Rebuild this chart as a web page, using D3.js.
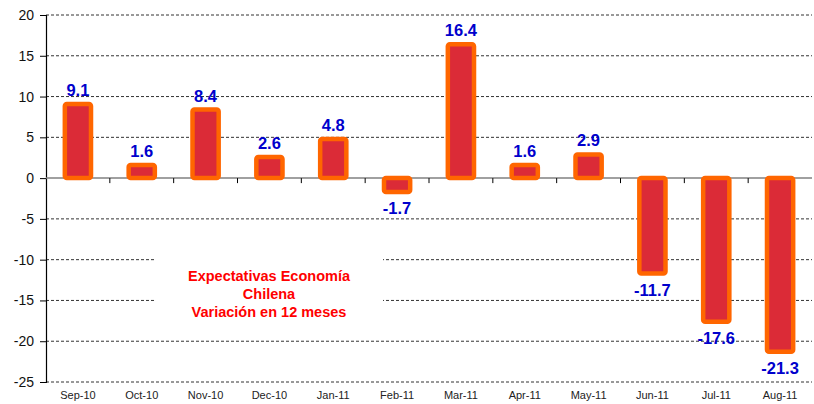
<!DOCTYPE html>
<html><head><meta charset="utf-8">
<script src="https://cdn.jsdelivr.net/npm/d3@7"></script>
<style>body{margin:0;background:#fff}svg{display:block;font-family:"Liberation Sans",Arial,sans-serif}</style>
</head><body>
<svg id="c" width="814" height="404"></svg>
<script>
const categories = ["Sep-10","Oct-10","Nov-10","Dec-10","Jan-11","Feb-11","Mar-11","Apr-11","May-11","Jun-11","Jul-11","Aug-11"];
const values = [9.1,1.6,8.4,2.6,4.8,-1.7,16.4,1.6,2.9,-11.7,-17.6,-21.3];
const yTicks = [20,15,10,5,0,-5,-10,-15,-20,-25];
const titleLines = ["Expectativas Economía","Chilena","Variación en 12 meses"];

const svg = d3.select("#c");
const L = 46, R = 812, T = 15, B = 382;
const x = d3.scaleBand().domain(categories).range([L, R]).padding(0);
const y = d3.scaleLinear().domain([-25, 20]).range([B, T]);

// dashed gridlines
svg.append("g").selectAll("line").data(yTicks.filter(d => d !== 0)).join("line")
  .attr("x1", L).attr("x2", R).attr("y1", d => y(d)).attr("y2", d => y(d))
  .attr("stroke", "#333").attr("stroke-width", 1).attr("stroke-dasharray", "3,2");

// white box behind title
svg.append("rect").attr("x", 155).attr("y", 255).attr("width", 228).attr("height", 70).attr("fill", "#fff");

// y axis
const yAxis = d3.axisLeft(y).tickValues(yTicks).tickFormat(d => String(d)).tickSize(6).tickPadding(6);
const ga = svg.append("g").attr("transform", `translate(${L},0)`).call(yAxis);
ga.select(".domain").attr("stroke", "#000").attr("stroke-width", 1.2);
ga.selectAll(".tick line").attr("stroke", "#000");
ga.selectAll("text").attr("font-size", 14).attr("fill", "#111").attr("font-family", "Liberation Sans, Arial, sans-serif");

// zero line
svg.append("line").attr("x1", L).attr("x2", R).attr("y1", y(0)).attr("y2", y(0))
  .attr("stroke", "#808080").attr("stroke-width", 1.5);
// category boundary ticks at zero
svg.append("g").selectAll("line").data(categories.slice(1)).join("line")
  .attr("x1", d => x(d)).attr("x2", d => x(d))
  .attr("y1", y(0)).attr("y2", y(0) + 5).attr("stroke", "#000").attr("stroke-width", 1);

// bars
const bw = x.bandwidth() * 0.41;
const data = categories.map((c, i) => ({c, v: values[i]}));
svg.append("g").selectAll("rect").data(data).join("rect")
  .attr("x", d => x(d.c) + (x.bandwidth() - bw) / 2)
  .attr("y", d => y(Math.max(0, d.v)))
  .attr("width", bw)
  .attr("height", d => Math.abs(y(d.v) - y(0)))
  .attr("rx", 2)
  .attr("fill", "#DB2B37").attr("stroke", "#FF6600").attr("stroke-width", 4.5);

// value labels
svg.append("g").selectAll("text").data(data).join("text")
  .attr("x", d => x(d.c) + x.bandwidth() / 2)
  .attr("y", d => d.v >= 0 ? y(d.v) - 8 : y(d.v) + 22)
  .attr("text-anchor", "middle").attr("font-size", 16.5).attr("font-weight", "bold")
  .attr("fill", "#0000CC").text(d => d.v.toFixed(1));

// x labels
svg.append("g").selectAll("text").data(categories).join("text")
  .attr("x", d => x(d) + x.bandwidth() / 2).attr("y", 399)
  .attr("text-anchor", "middle").attr("font-size", 11).attr("fill", "#222").text(d => d);

// title
svg.append("g").selectAll("text").data(titleLines).join("text")
  .attr("x", 269).attr("y", (d, i) => 281 + i * 18)
  .attr("text-anchor", "middle").attr("font-size", 14.5).attr("font-weight", "bold")
  .attr("fill", "#FF0000").text(d => d);
</script>
</body></html>
